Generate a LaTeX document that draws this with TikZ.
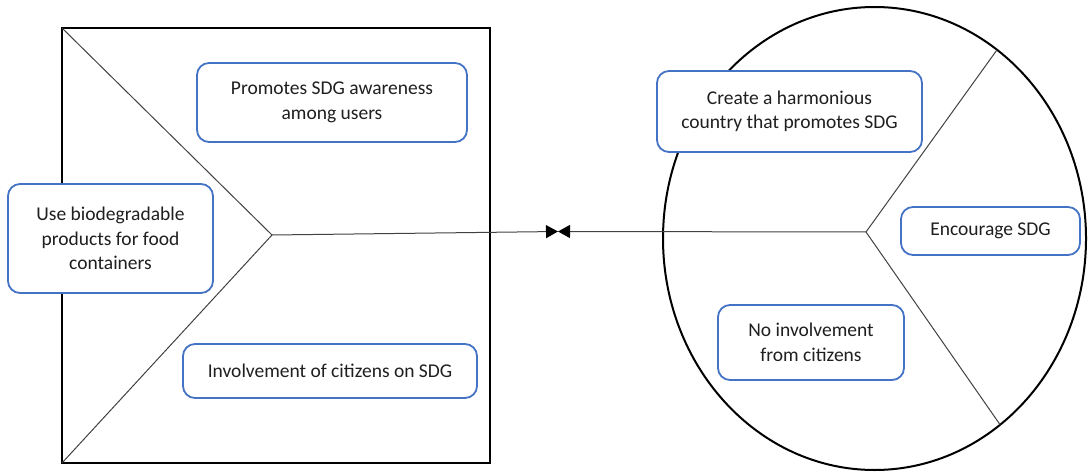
\documentclass[tikz,border=0pt]{standalone}
\usepackage{fontspec}
\setmainfont{Carlito}
\usetikzlibrary{shapes.geometric,arrows.meta}
\definecolor{boxblue}{HTML}{4472C4}
\definecolor{inkgray}{HTML}{1F1F1F}
\begin{document}
\begin{tikzpicture}[x=1pt,y=-1pt,
  frame/.style={draw=black,line width=2pt,outer sep=0pt,inner sep=0pt},
  spoke/.style={draw=inkgray!85,line width=1pt},
  tip/.style={-{Triangle[length=12pt,width=13pt,color=black,fill=black]}},
  idea/.style={draw=boxblue,line width=1.8pt,rounded corners=12pt,fill=white,
    align=center,text=inkgray,inner sep=0pt,
    font=\fontsize{19.5}{24.5}\selectfont}]
\useasboundingbox (0,0) rectangle (1089,473);

% the square frame and the round frame
\node[frame,rectangle,minimum width=428pt,minimum height=435pt] (sq) at (276,245.5) {};
\node[frame,ellipse,minimum width=423pt,minimum height=463pt] (el) at (874.5,238.5) {};

% hubs where the spokes meet, and the meeting point of the two arrows
\coordinate (hubL) at (272,235);
\coordinate (hubR) at (866,232);
\coordinate (meet) at (558,231.5);

% spokes
\draw[spoke] (sq.north west) -- (hubL);
\draw[spoke] (sq.south west) -- (hubL);
\draw[spoke] (el.57) -- (hubR);
\draw[spoke] (el.-56.5) -- (hubR);

% the link between the two frames
\draw[spoke,tip] (hubL) -- (meet);
\draw[spoke,tip] (hubR) -- (meet);

% text boxes
\node[idea,minimum width=270pt,minimum height=79pt] (prom) at (332,102.5)
  {Promotes SDG awareness\\among users};
\node[idea,minimum width=294pt,minimum height=54pt] (invo) at (330,371)
  {Involvement of citizens on SDG};
\node[idea,minimum width=205pt,minimum height=109pt] (bio) at (110.5,238.5)
  {Use biodegradable\\products for food\\containers};
\node[idea,minimum width=265pt,minimum height=81pt] (harm) at (789.5,111.5)
  {Create a harmonious\\country that promotes SDG};
\node[idea,minimum width=179pt,minimum height=48pt] (enc) at (990.5,231)
  {Encourage SDG};
\node[idea,minimum width=186pt,minimum height=75pt] (noinv) at (811,342.5)
  {No involvement\\from citizens};
\end{tikzpicture}
\end{document}
